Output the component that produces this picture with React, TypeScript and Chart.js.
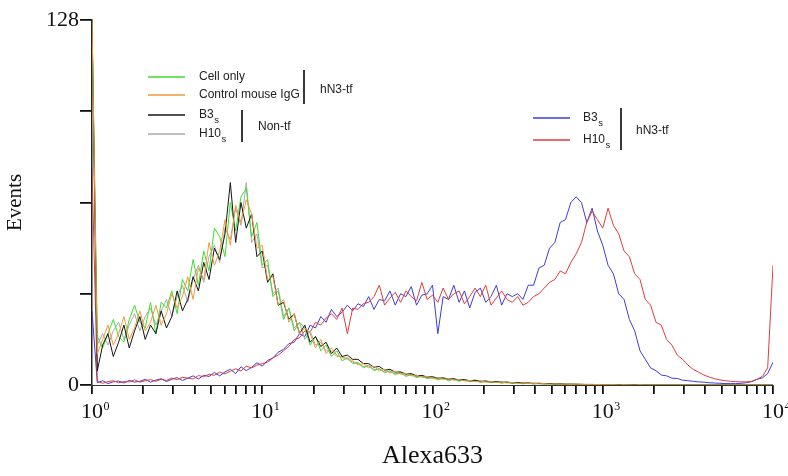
import React, { useEffect, useRef } from 'react';
import { Chart, registerables } from 'chart.js';

Chart.register(...registerables);

// channel positions: 32 channels per decade, 10^0 .. 10^4
const binsPerDecade = 32;
const channelCount = 129;
const channelX = Array.from({ length: channelCount }, (_, i) => Math.pow(10, i / binsPerDecade));

const cellOnly = [
  128, 17, 13, 18, 23, 17, 15, 23, 28, 22, 20, 29, 18, 29, 27, 33,
  25, 37, 33, 44, 35, 47, 40, 55, 52, 45, 64, 54, 66, 69, 52, 57,
  42, 44, 31, 33, 23, 27, 19, 22, 20, 14, 17, 12, 14, 10, 12, 8.5,
  9.5, 7.5, 8, 6, 7, 5, 5.8, 4.3, 5, 3.6, 4.4, 3, 3.7, 2.6, 3.2, 2.2,
  2.7, 1.8, 2.4, 1.5, 2.1, 1.3, 1.8, 1.1, 1.6, 0.9, 1.3, 0.8, 1.1, 0.6, 1, 0.5,
  0.8, 0.4, 0.7, 0.3, 0.6, 0.3, 0.5, 0.2, 0.4, 0.2, 0.3, 0.1, 0.3, 0.1, 0.2, 0.1,
  0.2, 0, 0.1, 0.1, 0, 0.1, 0, 0, 0.1, 0, 0, 0, 0, 0, 0, 0,
  0, 0, 0, 0, 0, 0, 0, 0, 0, 0, 0, 0, 0, 0, 0, 0,
  0,
];

const controlIgG = [
  128, 11, 16, 21, 14, 18, 24, 16, 20, 26, 19, 22, 28, 21, 25, 32,
  27, 31, 38, 30, 41, 37, 50, 42, 47, 58, 49, 63, 57, 65, 60, 48,
  49, 37, 38, 28, 30, 22, 25, 18, 20, 18, 13, 16, 11, 13, 10.5, 9.5,
  9.5, 8.5, 7, 7.5, 6, 6.5, 5, 5.5, 4.2, 4.8, 3.8, 4, 3.2, 3.5, 2.7, 3,
  2.3, 2.5, 2, 2.2, 1.7, 1.9, 1.4, 1.6, 1.2, 1.4, 1, 1.2, 0.9, 1, 0.7, 0.9,
  0.6, 0.7, 0.5, 0.6, 0.4, 0.5, 0.3, 0.4, 0.3, 0.3, 0.2, 0.3, 0.2, 0.2, 0.1, 0.2,
  0.1, 0.1, 0.1, 0, 0.1, 0, 0, 0.1, 0, 0, 0, 0, 0, 0, 0, 0,
  0, 0, 0, 0, 0, 0, 0, 0, 0, 0, 0, 0, 0, 0, 0, 0,
  0,
];

const b3NonTf = [
  128, 5, 14, 18, 10, 15, 21, 13, 19, 24, 16, 21, 18, 26, 20, 24,
  33, 26, 30, 38, 33, 43, 37, 48, 44, 53, 71, 50, 64, 55, 60, 45,
  47, 36, 39, 28, 29, 23, 25, 18, 21, 15, 17, 13.5, 15, 11, 13, 10,
  10.5, 9, 9, 7.5, 7.5, 6.2, 6.5, 5.2, 5.5, 4.5, 4.6, 3.8, 4, 3.2, 3.4, 2.8,
  2.9, 2.4, 2.5, 2.1, 2.2, 1.8, 1.9, 1.5, 1.7, 1.3, 1.4, 1.1, 1.2, 1, 1, 0.8,
  0.9, 0.7, 0.7, 0.6, 0.6, 0.5, 0.5, 0.4, 0.4, 0.3, 0.3, 0.3, 0.2, 0.2, 0.2, 0.1,
  0.1, 0.1, 0, 0.1, 0, 0, 0.1, 0, 0, 0, 0, 0, 0, 0, 0, 0,
  0, 0, 0, 0, 0, 0, 0, 0, 0, 0, 0, 0, 0, 0, 0, 0,
  0,
];

const h10NonTf = [
  110, 14, 18, 14, 19, 22, 16, 21, 25, 19, 24, 27, 21, 26, 30, 24,
  31, 35, 29, 37, 42, 36, 45, 49, 43, 55, 51, 62, 56, 71, 50, 53,
  41, 42, 32, 34, 24, 27, 20, 22, 16, 19, 14, 15, 12, 12, 10, 10,
  9, 8, 7.5, 6.5, 6.5, 5.5, 5.5, 4.6, 4.7, 4, 4, 3.4, 3.4, 2.9, 2.9, 2.5,
  2.5, 2.2, 2.2, 1.9, 1.9, 1.6, 1.6, 1.4, 1.4, 1.2, 1.2, 1, 1, 0.9, 0.9, 0.7,
  0.7, 0.6, 0.6, 0.5, 0.5, 0.4, 0.4, 0.3, 0.3, 0.3, 0.2, 0.2, 0.2, 0.1, 0.1, 0.1,
  0.1, 0, 0.1, 0, 0, 0, 0, 0, 0, 0, 0, 0, 0, 0, 0, 0,
  0, 0, 0, 0, 0, 0, 0, 0, 0, 0, 0, 0, 0, 0, 0, 0,
  0,
];

const b3HN3 = [
  26, 0.8, 1.5, 0.5, 1.1, 1.4, 0.7, 1.6, 1, 1.3, 2, 1, 1.7, 2.2, 1.2, 2,
  2.6, 1.6, 2.4, 3.2, 2.1, 3.4, 3, 4.4, 3.2, 4.6, 5.5, 4, 6.4, 5, 6.2, 7.8,
  6.6, 8.6, 9.5, 11.5, 12.5, 14.5, 15, 18, 17, 21, 20, 24, 22, 26.5, 24, 25.5,
  28, 26, 28.5, 27.5, 31, 26.5, 30, 29.5, 33, 28, 32, 31, 34.5, 28, 31.5, 32,
  35, 18, 31, 30, 35, 29, 33, 27, 32.5, 34, 29, 31, 35, 28, 32, 31,
  32, 30, 35, 35, 41, 42, 48, 50, 57, 58, 64, 66, 64, 57, 62, 54,
  49, 42, 39, 32, 30, 23, 19, 12, 9, 6, 5, 3.5, 3.2, 2.4, 2.3, 1.7,
  1.5, 1.3, 1.1, 1, 0.8, 0.7, 0.6, 0.5, 0.5, 0.5, 0.6, 0.8, 1.2, 2, 2.5, 4,
  8,
];

const h10HN3 = [
  76, 1.3, 0.6, 1.2, 1.5, 0.8, 1.2, 1.1, 1.8, 1, 1.5, 1.9, 1.3, 2, 1.6, 2.4,
  1.9, 2.7, 2.4, 2.1, 3.3, 2.9, 3.8, 3.4, 4.5, 3.9, 4.8, 5.7, 4.9, 6.6, 6, 7,
  7.5, 8, 9.5, 10.5, 12, 13.5, 16, 16.5, 19, 18.5, 22, 21, 23.5, 25, 23, 27,
  18, 27, 26.5, 28.5, 29, 31, 35, 28, 30.5, 32.5, 29, 33, 31, 29.5, 36, 30,
  31.5, 29, 34, 30, 32, 33, 28.5, 31, 34, 31, 35, 28, 30.5, 33, 30, 29,
  31, 28, 29, 31, 32, 34, 36, 37, 40, 39, 43, 46, 50, 57, 61, 58,
  55, 62, 56, 53, 47, 45, 39, 37, 30, 28, 22, 21, 16, 14, 10.5, 9,
  7, 5.5, 4.5, 3.5, 2.8, 2.2, 1.8, 1.5, 1.3, 1.2, 1.1, 1.1, 1.3, 2, 3, 6,
  42,
];

const seriesList = [
  { label: 'Cell only', values: cellOnly, color: '#3fdc32', order: 3 },
  { label: 'Control mouse IgG', values: controlIgG, color: '#f09a3c', order: 1 },
  { label: 'B3s Non-tf', values: b3NonTf, color: '#141414', order: 2 },
  { label: 'H10s Non-tf', values: h10NonTf, color: '#a8a8a8', order: 4 },
  { label: 'B3s hN3-tf', values: b3HN3, color: '#3c3cd8', order: 6 },
  { label: 'H10s hN3-tf', values: h10HN3, color: '#de3c3c', order: 5 },
];

const xMajorTicks = [1, 10, 100, 1000, 10000];
const xTickBase = '10';
const xTickExponents = ['0', '1', '2', '3', '4'];
const xMinorMultipliers = [2, 3, 4, 5, 6, 7, 8, 9];
const yTickValues = [0, 32, 64, 96, 128];
const yTickLabels = ['0', '', '', '', '128'];

const leftLegend = [
  { text: 'Cell only', sub: '', color: '#3fdc32' },
  { text: 'Control mouse IgG', sub: '', color: '#f09a3c' },
  { text: 'B3', sub: 's', color: '#141414' },
  { text: 'H10', sub: 's', color: '#a8a8a8' },
];
const rightLegend = [
  { text: 'B3', sub: 's', color: '#3c3cd8' },
  { text: 'H10', sub: 's', color: '#de3c3c' },
];
const groupLabels = ['hN3-tf', 'Non-tf', 'hN3-tf'];

const SERIF = '"Liberation Serif", "Times New Roman", serif';

const decorPlugin = {
  id: 'flowDecor',
  afterDraw(chart: any) {
    const ctx = chart.ctx as CanvasRenderingContext2D;
    ctx.save();
    // x tick labels with superscript exponents
    const xs = chart.scales.x;
    ctx.fillStyle = '#111';
    ctx.textBaseline = 'alphabetic';
    xMajorTicks.forEach((v, i) => {
      const px = xs.getPixelForValue(v);
      ctx.font = `22px ${SERIF}`;
      ctx.textAlign = 'center';
      ctx.fillText(xTickBase, px, 418);
      const w = ctx.measureText(xTickBase).width;
      ctx.font = `12px ${SERIF}`;
      ctx.textAlign = 'left';
      ctx.fillText(xTickExponents[i], px + w / 2 + 0.5, 410);
    });

    const sans = (s: number) => `${s}px "Liberation Sans", Arial, sans-serif`;
    const drawLine = (x1: number, x2: number, y: number, c: string) => {
      ctx.strokeStyle = c;
      ctx.lineWidth = 1.5;
      ctx.beginPath();
      ctx.moveTo(x1, y);
      ctx.lineTo(x2, y);
      ctx.stroke();
    };
    const drawText = (t: string, sub: string, x: number, y: number) => {
      ctx.font = sans(12);
      ctx.fillStyle = '#222';
      ctx.textAlign = 'left';
      ctx.textBaseline = 'middle';
      ctx.fillText(t, x, y);
      if (sub) {
        const w = ctx.measureText(t).width;
        ctx.font = sans(9.5);
        ctx.fillText(sub, x + w + 0.5, y + 5);
      }
    };
    const drawBar = (x: number, y1: number, y2: number) => {
      ctx.strokeStyle = '#222';
      ctx.lineWidth = 1.8;
      ctx.beginPath();
      ctx.moveTo(x, y1);
      ctx.lineTo(x, y2);
      ctx.stroke();
    };
    const leftYs = [77, 95, 115, 134];
    leftLegend.forEach((e, i) => {
      drawLine(148, 185, leftYs[i], e.color);
      drawText(e.text, e.sub, 199, leftYs[i]);
    });
    drawBar(304, 70, 104);
    drawText(groupLabels[0], '', 320, 90);
    drawBar(242, 110, 142);
    drawText(groupLabels[1], '', 258, 127);

    const rightYs = [118, 140];
    rightLegend.forEach((e, i) => {
      drawLine(533, 570, rightYs[i], e.color);
      drawText(e.text, e.sub, 583, rightYs[i]);
    });
    drawBar(621, 108, 150);
    drawText(groupLabels[2], '', 636, 131);
    ctx.restore();
  },
};

export default function App() {
  const ref = useRef<HTMLCanvasElement>(null);
  useEffect(() => {
    const chart = new Chart(ref.current as HTMLCanvasElement, {
      type: 'line',
      data: {
        datasets: seriesList.map((s) => ({
          label: s.label,
          data: s.values.map((y, i) => ({ x: channelX[i], y })),
          borderColor: s.color,
          backgroundColor: s.color,
          borderWidth: 1,
          pointRadius: 0,
          tension: 0,
          fill: false,
          order: s.order,
        })),
      },
      options: {
        animation: false,
        responsive: true,
        maintainAspectRatio: false,
        layout: { padding: { top: 20, right: 15, left: 0, bottom: 0 } },
        plugins: { legend: { display: false }, tooltip: { enabled: false } },
        scales: {
          x: {
            type: 'logarithmic',
            min: 1,
            max: 10000,
            afterBuildTicks: (scale: any) => {
              const ticks: any[] = [];
              xMajorTicks.forEach((m, d) => {
                ticks.push({ value: m, major: true });
                if (d < xMajorTicks.length - 1) {
                  xMinorMultipliers.forEach((k) => ticks.push({ value: k * m, major: false }));
                }
              });
              scale.ticks = ticks;
            },
            afterFit: (scale: any) => {
              scale.height = 91;
            },
            ticks: {
              autoSkip: false,
              maxRotation: 0,
              padding: 3,
              color: '#111',
              font: { family: SERIF, size: 22 },
              callback: () => '',
            },
            grid: {
              display: true,
              drawOnChartArea: false,
              drawTicks: true,
              tickLength: 9,
              color: '#111',
              lineWidth: 1.8,
            },
            border: { display: true, color: '#333', width: 1 },
            title: {
              display: true,
              text: 'Alexa633',
              color: '#111',
              font: { family: SERIF, size: 26 },
              padding: { top: 0, bottom: 4 },
            },
          },
          y: {
            type: 'linear',
            min: 0,
            max: 128,
            afterBuildTicks: (scale: any) => {
              scale.ticks = yTickValues.map((v) => ({ value: v }));
            },
            afterFit: (scale: any) => {
              scale.width = 92;
            },
            ticks: {
              padding: 1,
              color: '#111',
              font: { family: SERIF, size: 22 },
              callback: (v: any) => {
                const idx = yTickValues.indexOf(Number(v));
                return idx >= 0 ? yTickLabels[idx] : '';
              },
            },
            grid: {
              display: true,
              drawOnChartArea: false,
              drawTicks: true,
              tickLength: 12,
              color: '#111',
              lineWidth: 1.8,
            },
            border: { display: true, color: '#222', width: 1.5 },
            title: {
              display: true,
              text: 'Events',
              color: '#111',
              font: { family: SERIF, size: 21 },
              padding: { top: 3, bottom: 0 },
            },
          },
        },
      },
      plugins: [decorPlugin],
    } as any);
    return () => chart.destroy();
  }, []);
  return (
    <div style={{ position: 'absolute', left: 0, top: 0, width: 788, height: 476, background: '#fff' }}>
      <canvas ref={ref} />
    </div>
  );
}
